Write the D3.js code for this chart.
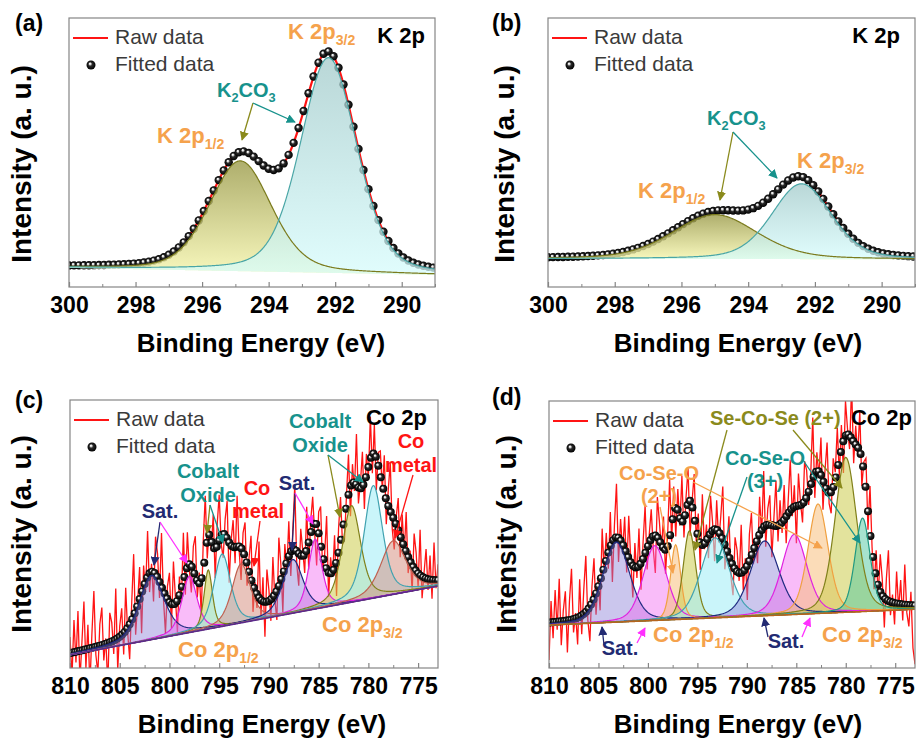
<!DOCTYPE html>
<html>
<head>
<meta charset="utf-8">
<script src="https://cdn.jsdelivr.net/npm/d3@7"></script>
<style>
  body { margin: 0; background: #fff; }
  svg { font-family: "Liberation Sans", Arial, sans-serif; }
</style>
</head>
<body>
<svg id="chart" width="917" height="740"></svg>
<script>
// ---- data (intensity in arbitrary 0-100 units) ----
// (a) K 2p
var aCenters = [294.85, 292.2]
var aHeights = [41, 80]
var aFwhm = [2.2, 2.0]
var aBase = [7.1, 4.5]

// (b) K 2p
var bCenters = [295.0, 292.4]
var bHeights = [16.5, 28]
var bFwhm = [3.0, 2.1]
var bBase = [10.5, 10.3]

// (c) Co 2p
var cCenters = [801.8, 798.0, 796.1, 794.7, 792.8, 787.6, 785.35, 781.7, 779.5, 777.5]
var cHeights = [24, 21, 22, 27, 22, 20, 26, 36, 42, 20]
var cFwhm = [3.0, 1.8, 1.0, 2.0, 2.2, 2.4, 1.6, 2.2, 2.2, 3.0]
var cKinds = ['sat', 'sat2', 'olive', 'cyan', 'metal', 'sat', 'sat2', 'olive', 'cyan', 'metal']
var cBase = [4.9, 30.6]
var cNoise = [6, -9, 12, -4, 15, -11, 3, 18, -7, 9, -14, 5, 21, -3, -10, 8, 14, -6, 2, -16,
  11, 7, -5, 19, -12, 4, 10, -8, 16, -2, -13, 6, 23, -9, 1, 12, -15, 8, -4, 17,
  -7, 3, -11, 14, 9, -6, 20, -3, -14, 5, 11, -9, 16, 2, -12, 7, -5, 18, -8, 13,
  -2, -10, 9, 15, -6, 4, -13, 11, 22, -7, 3, -4, 12, -11, 8, 17, -3, -9, 6, 14,
  -15, 2, 10, -6, 19, -1, -12, 7, 13, -8, 5, 16, -10, 3, -5, 21, -7, 9, -13, 12,
  4, -8, 15, -2, -11, 18, 6, -14, 9, -3, 13, -9, 7, 24, -5, -12, 10, 2, -7, 16,
  -10, 5, 11, -4, -15, 8, 14, -6, 3, 20, -9, 6, -2, 12, -13, 9, 17, -5, -8, 4,
  15, -11, 7, -3, 19, -6, 2, 13, -10, 8, -4, 16, -7, 11, -12, 5, 9, -2, 14, -9,
  6, 18, -5, -11, 3, 12, -8, 10, -3, 15, -6, 4, -10, 13, 7, -5, 17, -8, 2, 11,
  -4, 9, -7, 14, -3, 6]

// (d) Co 2p
var dCenters = [803.2, 799.3, 797.2, 795.8, 793.2, 788.2, 785.2, 782.8, 780.0, 778.3]
var dHeights = [30, 28, 28, 33, 30, 28, 30, 41, 58, 35]
var dFwhm = [3.2, 2.8, 1.2, 1.5, 3.4, 3.4, 3.0, 2.4, 2.6, 1.8]
var dKinds = ['sat', 'sat2', 'orange', 'olive', 'cyan', 'sat', 'sat2', 'orange', 'olive', 'green']
var dBase = [16.1, 22.0]
var dNoise = [-14, 8, -6, 12, -3, 16, -9, 4, 11, -12, 7, 19, -5, 2, -10, 14, -7, 9, 21, -4,
  -13, 6, 15, -8, 3, -11, 17, -2, 10, -6, 13, -15, 5, 20, -9, 8, -3, 12, -7, 16,
  1, -12, 9, -4, 14, -10, 6, 18, -8, 3, 11, -5, -14, 15, 7, -2, 12, -9, 4, 22,
  -6, 10, -11, 8, -3, 17, -7, 5, 13, -13, 2, 16, -5, 9, -10, 19, -2, 6, -8, 14,
  3, -12, 11, -4, 7, 20, -9, 1, 15, -6, -11, 12, 8, -3, 18, -7, 4, -13, 10, 16,
  -5, 2, -9, 14, -2, 21, -8, 6, 11, -12, 3, 17, -6, 9, -4, 13, -10, 5, 19, -3,
  8, -14, 12, 1, -7, 15, 10, -5, 4, 23, -9, 7, -2, 14, -11, 6, 18, -4, -8, 11,
  3, 16, -6, 9, -12, 13, 2, -5, 20, -8, 7, -3, 15, -10, 4, 12, -7, 17, 1, -9,
  10, -4, 14, 6, -11, 8, 19, -5, 3, -8, 12, -2, 9, -6, 15, -3, -8, 5, -16, -22]

var kTicks = [300, 298, 296, 294, 292, 290]
var kMinor = [299, 297, 295, 293, 291, 289]
var coTicks = [810, 805, 800, 795, 790, 785, 780, 775]
var coMinor = [807.5, 802.5, 797.5, 792.5, 787.5, 782.5, 777.5]

// ---- styles ----
var ORANGE = '#f5a24c'
var TEAL = '#17928c'
var NAVY = '#222a72'
var RED = '#ff1414'
var OLIVE = '#8a8a1c'
var MAGENTA = '#ff30ff'

var styles = {
  kOlive: { fill: 'url(#gOlive)', op: 0.8, stroke: '#7b7b1e' },
  kCyan: { fill: 'url(#gCyan)', op: 0.75, stroke: '#4aa6a6' },
  sat: { fill: '#8c80d8', op: 0.45, stroke: '#1e2a80' },
  sat2: { fill: '#f060f0', op: 0.42, stroke: '#e020e0' },
  olive: { fill: '#cccc4c', op: 0.55, stroke: '#80801a' },
  cyan: { fill: '#a6eef6', op: 0.6, stroke: '#40a2b0' },
  metal: { fill: '#d48a7a', op: 0.5, stroke: '#c06050' },
  orange: { fill: '#f8c07e', op: 0.55, stroke: '#f0a040' },
  green: { fill: '#50c8a0', op: 0.5, stroke: '#209880' }
}

var svg = d3.select('#chart')
var defs = svg.append('defs')

var ball = defs.append('radialGradient').attr('id', 'ball')
    .attr('cx', '50%').attr('cy', '50%').attr('r', '50%')
    .attr('fx', '36%').attr('fy', '32%')
ball.append('stop').attr('offset', '0%').attr('stop-color', '#ffffff')
ball.append('stop').attr('offset', '18%').attr('stop-color', '#e6e6e6')
ball.append('stop').attr('offset', '45%').attr('stop-color', '#2a2a2a')
ball.append('stop').attr('offset', '100%').attr('stop-color', '#000')

function vGrad (id, top, bottom) {
  var g = defs.append('linearGradient').attr('id', id).attr('x1', 0).attr('y1', 0).attr('x2', 0).attr('y2', 1)
  g.append('stop').attr('offset', '0%').attr('stop-color', top)
  g.append('stop').attr('offset', '100%').attr('stop-color', bottom)
}
vGrad('gOlive', '#9a9a48', '#f6f6ac')
vGrad('gCyan', '#a2caca', '#d6fcfc')

function markerId (color) {
  var id = 'm' + color.replace('#', '')
  if (defs.select('#' + id).empty()) {
    defs.append('marker').attr('id', id)
        .attr('viewBox', '0 0 10 10').attr('refX', 9).attr('refY', 5)
        .attr('markerWidth', 7).attr('markerHeight', 7).attr('orient', 'auto')
      .append('path').attr('d', 'M0,0L10,5L0,10z').attr('fill', color)
  }
  return id
}

// pseudo-Voigt peak
function pv (e, c, h, w, eta) {
  var r = (e - c) / (w / 2)
  return h * ((1 - eta) * Math.exp(-Math.LN2 * r * r) + eta / (1 + r * r))
}

function rich (g, x, y, parts, color, size, anchor) {
  var t = g.append('text').attr('x', x).attr('y', y).attr('fill', color)
      .attr('font-size', size).attr('font-weight', 'bold').attr('text-anchor', anchor || 'start')
  var down = false
  parts.forEach(s => {
    var sub = s[0] === '_'
    var ts = t.append('tspan').text(sub ? s.slice(1) : s)
    if (sub) ts.attr('font-size', size * 0.64).attr('dy', down ? 0 : size * 0.27)
    else if (down) ts.attr('dy', -size * 0.27)
    down = sub
  })
  return t
}

function arrow (g, x1, y1, x2, y2, color) {
  g.append('line').attr('x1', x1).attr('y1', y1).attr('x2', x2).attr('y2', y2)
      .attr('stroke', color).attr('stroke-width', 1.3)
      .attr('marker-end', `url(#${markerId(color)})`)
}

var panels = [
  { name: 'a', left: 69, right: 435, top: 18, bottom: 287, domain: [300, 289],
    centers: aCenters, heights: aHeights, fwhm: aFwhm, kinds: ['kOlive', 'kCyan'], base: aBase, eta: 0.3,
    ticks: kTicks, minor: kMinor, dotStep: 0.15, dotR: 4.2, baseColor: null,
    tag: '(a)', tagX: 15, tagY: 31, yTitleX: 31, yTitleY: 164, xTitleX: 261, xTitleY: 352 },
  { name: 'b', left: 548, right: 915, top: 18, bottom: 287, domain: [300, 289],
    centers: bCenters, heights: bHeights, fwhm: bFwhm, kinds: ['kOlive', 'kCyan'], base: bBase, eta: 0.3,
    ticks: kTicks, minor: kMinor, dotStep: 0.15, dotR: 4.2, baseColor: null,
    tag: '(b)', tagX: 492, tagY: 31, yTitleX: 514, yTitleY: 164, xTitleX: 738, xTitleY: 352 },
  { name: 'c', left: 70, right: 438, top: 400, bottom: 668, domain: [810, 773],
    centers: cCenters, heights: cHeights, fwhm: cFwhm, kinds: cKinds, base: cBase, eta: 0.5, noise: cNoise,
    ticks: coTicks, minor: coMinor, dotStep: 0.25, dotR: 4, baseColor: '#5a2a8c',
    tag: '(c)', tagX: 15, tagY: 408, yTitleX: 31, yTitleY: 534, xTitleX: 262, xTitleY: 733 },
  { name: 'd', left: 549, right: 915, top: 401, bottom: 668, domain: [810, 773],
    centers: dCenters, heights: dHeights, fwhm: dFwhm, kinds: dKinds, base: dBase, eta: 0.3, noise: dNoise,
    ticks: coTicks, minor: coMinor, dotStep: 0.25, dotR: 4, baseColor: '#b5651d',
    tag: '(d)', tagX: 492, tagY: 405, yTitleX: 516, yTitleY: 534, xTitleX: 738, xTitleY: 733 }
]

function drawPanel (p) {
  var g = svg.append('g')
  var x = d3.scaleLinear().domain(p.domain).range([p.left, p.right])
  var y = d3.scaleLinear().domain([0, 100]).range([p.bottom, p.top])
  var span = p.domain[1] - p.domain[0]
  var base = e => p.base[0] + (p.base[1] - p.base[0]) * (e - p.domain[0]) / span
  var comp = (e, i) => pv(e, p.centers[i], p.heights[i], p.fwhm[i], p.eta)
  var fit = e => base(e) + d3.sum(p.centers, (c, i) => comp(e, i))
  var fine = d3.range(0, 1.00001, 1 / 500).map(t => p.domain[0] + t * span)

  defs.append('clipPath').attr('id', 'clip' + p.name)
    .append('rect').attr('x', p.left).attr('y', p.top)
      .attr('width', p.right - p.left).attr('height', p.bottom - p.top)
  var plot = g.append('g').attr('clip-path', `url(#clip${p.name})`)

  var line = d3.line().x(d => x(d[0])).y(d => y(d[1]))

  // raw data
  var raw = p.noise
    ? p.noise.map((v, i) => { var e = p.domain[0] + span * i / (p.noise.length - 1); return [e, fit(e) + v] })
    : fine.map(e => [e, fit(e)])
  plot.append('path').datum(raw).attr('d', line)
      .attr('fill', 'none').attr('stroke', RED).attr('stroke-width', p.noise ? 1.3 : 2.2)

  // fitted data
  var dots = d3.range(p.domain[0], p.domain[1] - 1e-9, -p.dotStep)
  plot.selectAll('circle.fit').data(dots).enter().append('circle')
      .attr('class', 'fit')
      .attr('cx', e => x(e)).attr('cy', e => y(fit(e))).attr('r', p.dotR)
      .attr('fill', 'url(#ball)')

  // components
  var area = d3.area().x(d => x(d[0])).y0(d => y(d[2])).y1(d => y(d[1]))
  p.centers.forEach((c, i) => {
    var st = styles[p.kinds[i]]
    var pts = fine.map(e => [e, base(e) + comp(e, i), base(e)])
    plot.append('path').datum(pts).attr('d', area)
        .attr('fill', st.fill).attr('fill-opacity', st.op).attr('stroke', 'none')
  })
  p.centers.forEach((c, i) => {
    var st = styles[p.kinds[i]]
    var pts = fine.map(e => [e, base(e) + comp(e, i)])
    plot.append('path').datum(pts).attr('d', line)
        .attr('fill', 'none').attr('stroke', st.stroke).attr('stroke-width', 1.2)
  })
  if (p.baseColor) {
    plot.append('path').datum(fine.map(e => [e, base(e)])).attr('d', line)
        .attr('fill', 'none').attr('stroke', p.baseColor).attr('stroke-width', 1.6)
  }

  // frame
  g.append('rect').attr('x', p.left).attr('y', p.top)
      .attr('width', p.right - p.left).attr('height', p.bottom - p.top)
      .attr('fill', 'none').attr('stroke', '#858585').attr('stroke-width', 1.2)

  // x axis
  var ax = g.append('g').attr('transform', `translate(0,${p.bottom})`)
      .call(d3.axisBottom(x).tickValues(p.ticks).tickSizeInner(-5).tickSizeOuter(0)
          .tickPadding(10).tickFormat(d3.format('d')))
  ax.select('.domain').remove()
  ax.selectAll('line').attr('stroke', '#858585').attr('stroke-width', 1.2)
  ax.selectAll('text').attr('fill', '#000').style('font-size', '23px').style('font-weight', 'bold')
      .style('font-family', '"Liberation Sans", Arial, sans-serif')
  var mx = g.append('g').attr('transform', `translate(0,${p.bottom})`)
      .call(d3.axisBottom(x).tickValues(p.minor).tickSizeInner(-3).tickSizeOuter(0).tickFormat(''))
  mx.select('.domain').remove()
  mx.selectAll('line').attr('stroke', '#858585')

  // titles
  g.append('text').attr('x', p.xTitleX).attr('y', p.xTitleY).attr('text-anchor', 'middle')
      .attr('font-size', 26).attr('font-weight', 'bold').text('Binding Energy (eV)')
  g.append('text').attr('transform', `translate(${p.yTitleX},${p.yTitleY}) rotate(-90)`)
      .attr('text-anchor', 'middle').attr('font-size', 28).attr('font-weight', 'bold')
      .text('Intensity (a. u.)')
  g.append('text').attr('x', p.tagX).attr('y', p.tagY)
      .attr('font-size', 23).attr('font-weight', 'bold').text(p.tag)

  // legend
  var lg = g.append('g').attr('transform', `translate(${p.left},${p.top})`)
  lg.append('line').attr('x1', 4).attr('x2', 39).attr('y1', 20).attr('y2', 20)
      .attr('stroke', RED).attr('stroke-width', 2.2)
  lg.append('text').attr('x', 46).attr('y', 26).attr('font-size', 21).attr('fill', '#3a3a3a').text('Raw data')
  lg.append('circle').attr('cx', 22).attr('cy', 47).attr('r', 4.5).attr('fill', 'url(#ball)')
  lg.append('text').attr('x', 46).attr('y', 53).attr('font-size', 21).attr('fill', '#3a3a3a').text('Fitted data')

  // annotations, panel-relative
  var an = g.append('g').attr('transform', `translate(${p.left},${p.top})`)
  return an
}

var an = panels.map(drawPanel)

// (a)
rich(an[0], 356, 25, ['K 2p'], '#000', 22, 'end')
rich(an[0], 219, 21, ['K 2p', '_3/2'], ORANGE, 22)
rich(an[0], 148, 79, ['K', '_2', 'CO', '_3'], TEAL, 20)
rich(an[0], 88, 125, ['K 2p', '_1/2'], ORANGE, 22)
arrow(an[0], 184, 85, 173, 122, OLIVE)
arrow(an[0], 184, 85, 226, 104, TEAL)

// (b)
rich(an[1], 352, 25, ['K 2p'], '#000', 22, 'end')
rich(an[1], 159, 107, ['K', '_2', 'CO', '_3'], TEAL, 20)
rich(an[1], 249, 150, ['K 2p', '_3/2'], ORANGE, 22)
rich(an[1], 90, 180, ['K 2p', '_1/2'], ORANGE, 22)
arrow(an[1], 185, 114, 172, 182, OLIVE)
arrow(an[1], 185, 114, 229, 160, TEAL)

// (c)
rich(an[2], 357, 25, ['Co 2p'], '#000', 22, 'end')
rich(an[2], 250, 28, ['Cobalt'], TEAL, 20, 'middle')
rich(an[2], 250, 52, ['Oxide'], TEAL, 20, 'middle')
rich(an[2], 341, 48, ['Co'], RED, 20, 'middle')
rich(an[2], 341, 72, ['metal'], RED, 20, 'middle')
rich(an[2], 138, 78, ['Cobalt'], TEAL, 20, 'middle')
rich(an[2], 138, 102, ['Oxide'], TEAL, 20, 'middle')
rich(an[2], 187, 95, ['Co'], RED, 20, 'middle')
rich(an[2], 188, 118, ['metal'], RED, 20, 'middle')
rich(an[2], 90, 118, ['Sat.'], NAVY, 20, 'middle')
rich(an[2], 227, 90, ['Sat.'], NAVY, 20, 'middle')
rich(an[2], 252, 232, ['Co 2p', '_3/2'], ORANGE, 22)
rich(an[2], 108, 257, ['Co 2p', '_1/2'], ORANGE, 22)
arrow(an[2], 90, 122, 84, 165, NAVY)
arrow(an[2], 90, 122, 117, 163, MAGENTA)
arrow(an[2], 140, 105, 137, 133, OLIVE)
arrow(an[2], 140, 105, 153, 143, TEAL)
arrow(an[2], 190, 121, 184, 166, RED)
arrow(an[2], 225, 93, 222, 150, NAVY)
arrow(an[2], 225, 93, 243, 124, MAGENTA)
arrow(an[2], 258, 55, 270, 117, OLIVE)
arrow(an[2], 258, 55, 293, 82, TEAL)
arrow(an[2], 343, 75, 325, 138, RED)

// (d)
rich(an[3], 363, 24, ['Co 2p'], '#000', 22, 'end')
rich(an[3], 161, 24, ['Se-Co-Se (2+)'], OLIVE, 20)
rich(an[3], 216, 64, ['Co-Se-O'], TEAL, 20, 'middle')
rich(an[3], 216, 87, ['(3+)'], TEAL, 20, 'middle')
rich(an[3], 110, 79, ['Co-Se-O'], ORANGE, 20, 'middle')
rich(an[3], 110, 102, ['(2+)'], ORANGE, 20, 'middle')
rich(an[3], 71, 254, ['Sat.'], NAVY, 20, 'middle')
rich(an[3], 237, 247, ['Sat.'], NAVY, 20, 'middle')
rich(an[3], 104, 241, ['Co 2p', '_1/2'], ORANGE, 22)
rich(an[3], 273, 241, ['Co 2p', '_3/2'], ORANGE, 22)
arrow(an[3], 178, 29, 146, 149, OLIVE)
arrow(an[3], 244, 29, 293, 87, OLIVE)
arrow(an[3], 198, 76, 168, 162, TEAL)
arrow(an[3], 254, 59, 311, 142, TEAL)
arrow(an[3], 111, 106, 124, 172, ORANGE)
arrow(an[3], 144, 81, 273, 147, ORANGE)
arrow(an[3], 55, 244, 53, 226, NAVY)
arrow(an[3], 88, 242, 96, 227, MAGENTA)
arrow(an[3], 219, 236, 215, 217, NAVY)
arrow(an[3], 253, 236, 261, 217, MAGENTA)
</script>
</body>
</html>
